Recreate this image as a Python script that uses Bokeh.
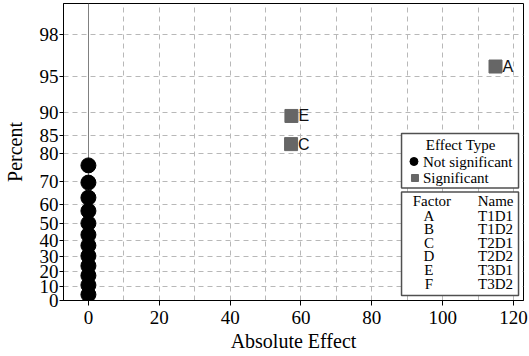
from statistics import NormalDist
from bokeh.plotting import figure
from bokeh.models import FixedTicker, CustomJSTickFormatter, Range1d, SingleIntervalTicker
from bokeh.core.properties import value
from bokeh.embed import file_html
from bokeh.resources import INLINE

# ---------------- data ----------------
ns_effect = [0.0, 0.0, 0.0, 0.0, 0.0, 0.0, 0.0, 0.0, 0.0, 0.0, 0.0, 0.0]
ns_percent = [4.1, 10.7, 17.2, 23.8, 30.3, 36.9, 43.4, 50.0, 56.6, 63.1, 69.7, 76.2]
sig_labels = ["C", "E", "A"]
sig_effect = [57.2, 57.3, 114.9]
sig_percent = [82.8, 89.3, 95.9]
y_tick_percent = [0, 10, 20, 30, 40, 50, 60, 70, 80, 85, 90, 95, 98]
x_ticks = [0, 20, 40, 60, 80, 100, 120]
legend_title = "Effect Type"
legend_items = ["Not significant", "Significant"]
table_headers = ["Factor", "Name"]
factors = ["A", "B", "C", "D", "E", "F"]
names = ["T1D1", "T1D2", "T2D1", "T2D2", "T3D1", "T3D2"]

# ---------------- half-normal percent scale ----------------
nd = NormalDist()
def hn(p):
    return nd.inv_cdf(0.5 + p / 200.0)

# frame geometry (pixels) and ranges
FL, FR, FT, FB = 61, 523, 3, 300
X0, X1 = -7.03, 122.8
Y0, Y1 = 0.0, 2.594

def dx(px):
    return X0 + (px - FL) / (FR - FL) * (X1 - X0)

def dy(py):
    return Y1 - (py - FT) / (FB - FT) * (Y1 - Y0)

SERIF = "Liberation Serif"

p = figure(width=529, height=356, x_range=Range1d(X0, X1), y_range=Range1d(Y0, Y1),
           output_backend="svg", toolbar_location=None, title=None)
p.min_border = 0
p.min_border_left = FL
p.min_border_right = 529 - FR
p.min_border_top = FT
p.min_border_bottom = 356 - FB
p.background_fill_color = "white"
p.border_fill_color = "white"
p.outline_line_color = "black"
p.outline_line_width = 1

# grids
p.xgrid.ticker = SingleIntervalTicker(interval=10)
yt = [hn(v) for v in y_tick_percent]
p.ygrid.ticker = FixedTicker(ticks=yt)
for g in (p.xgrid, p.ygrid):
    g.grid_line_color = "#b8b8b8"
    g.grid_line_dash = "5 4"
    g.grid_line_width = 1

# axes
p.xaxis.ticker = FixedTicker(ticks=x_ticks)
p.yaxis.ticker = FixedTicker(ticks=yt)
p.yaxis.formatter = CustomJSTickFormatter(
    args=dict(pos=yt, lab=[str(v) for v in y_tick_percent]),
    code="""
    let best = 0, bd = 1e9;
    for (let i = 0; i < pos.length; i++) {
        const d = Math.abs(pos[i] - tick);
        if (d < bd) { bd = d; best = i; }
    }
    return lab[best];
    """)
p.xaxis.axis_label = "Absolute Effect"
p.yaxis.axis_label = "Percent"
for ax in (p.xaxis, p.yaxis):
    ax.axis_line_color = "black"
    ax.major_tick_line_color = "black"
    ax.minor_tick_line_color = None
    ax.major_tick_in = 0
    ax.major_label_text_font = SERIF
    ax.major_label_text_font_size = "19px"
    ax.major_label_text_color = "black"
    ax.axis_label_text_font = SERIF
    ax.axis_label_text_font_size = "20px"
    ax.axis_label_text_font_style = "normal"
    ax.axis_label_text_color = "black"
p.xaxis.major_tick_out = 5
p.xaxis.major_label_standoff = 5
p.xaxis.axis_label_standoff = 3
p.yaxis.major_tick_out = 4
p.yaxis.major_label_standoff = 1
p.yaxis.axis_label_standoff = 11

# reference line at zero
p.vspan(x=[0], line_color="#808080", line_width=1)

# points
p.scatter(x=ns_effect, y=[hn(v) for v in ns_percent], marker="circle", size=15,
          fill_color="black", line_color="black")
p.scatter(x=sig_effect, y=[hn(v) for v in sig_percent], marker="square", size=13,
          fill_color="#666666", line_color="#666666")
p.text(x=sig_effect, y=[hn(v) for v in sig_percent], text=sig_labels, x_offset=7,
       text_align="left", text_baseline="middle", text_font=value("Liberation Sans"),
       text_font_size="16px", text_color="#111111")

# legend box: effect type
p.quad(left=[dx(400.5)], right=[dx(518)], top=[dy(133)], bottom=[dy(187.5)],
       fill_color="white", line_color="#505050", line_width=1.5)
p.text(x=[dx(460)], y=[dy(144)], text=[legend_title], text_align="center",
       text_baseline="middle", text_font=value(SERIF), text_font_size="15px",
       text_color="black")
p.scatter(x=[dx(413)], y=[dy(161)], marker="circle", size=8,
          fill_color="black", line_color="black")
p.scatter(x=[dx(414)], y=[dy(177.5)], marker="square", size=7,
          fill_color="#666666", line_color="#666666")
p.text(x=[dx(422), dx(422)], y=[dy(161), dy(177.5)], text=legend_items,
       text_align="left", text_baseline="middle", text_font=value(SERIF),
       text_font_size="15px", text_color="black")

# table box: factor / name
p.quad(left=[dx(400.5)], right=[dx(518)], top=[dy(191.5)], bottom=[dy(295)],
       fill_color="white", line_color="#505050", line_width=1.5)
p.text(x=[dx(431), dx(495)], y=[dy(200), dy(200)], text=table_headers,
       text_align="center", text_baseline="middle", text_font=value(SERIF),
       text_font_size="15px", text_color="black")
row_y = [dy(215 + 13.6 * i) for i in range(len(factors))]
p.text(x=[dx(428)] * len(factors), y=row_y, text=factors, text_align="center",
       text_baseline="middle", text_font=value(SERIF), text_font_size="15px",
       text_color="black")
p.text(x=[dx(495)] * len(names), y=row_y, text=names, text_align="center",
       text_baseline="middle", text_font=value(SERIF), text_font_size="15px",
       text_color="black")

open("out.html", "w").write(file_html(p, INLINE))
